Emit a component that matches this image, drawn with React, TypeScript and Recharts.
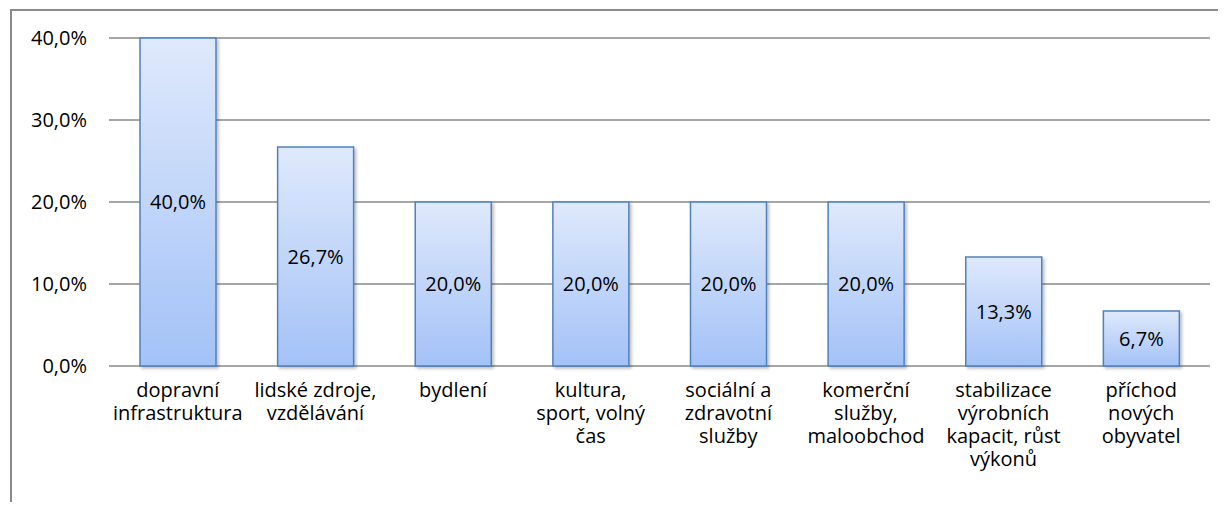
import React from "react";
import { BarChart, Bar, XAxis, YAxis, CartesianGrid, LabelList } from "recharts";

const categories = [
  "dopravní\ninfrastruktura",
  "lidské zdroje,\nvzdělávání",
  "bydlení",
  "kultura,\nsport, volný\nčas",
  "sociální a\nzdravotní\nslužby",
  "komerční\nslužby,\nmaloobchod",
  "stabilizace\nvýrobních\nkapacit, růst\nvýkonů",
  "příchod\nnových\nobyvatel",
];
const values = [0.4, 0.267, 0.2, 0.2, 0.2, 0.2, 0.133, 0.067];
const yTicks = [0, 0.1, 0.2, 0.3, 0.4];

const data = categories.map((c, i) => ({ name: c, value: values[i] }));

const FONT = "'Open Sans', sans-serif";
const FS = 20;

const fmt = (v: number) => (v * 100).toFixed(1).replace(".", ",") + "%";

const WrapTick = (props: any) => {
  const { x, y, payload } = props;
  const lines = String(payload.value).split("\n");
  return (
    <text x={x} y={y} textAnchor="middle" fill="#000" fontFamily={FONT} fontSize={FS}>
      {lines.map((l, i) => (
        <tspan key={i} x={x} dy={i === 0 ? 23 : 23}>
          {l}
        </tspan>
      ))}
    </text>
  );
};

export default function App() {
  return (
    <div
      style={{
        position: "relative",
        top: 1,
        left: 2,
        width: 1214,
        height: 494,
        borderTop: "2px solid #8a8a8a",
        borderLeft: "2px solid #8a8a8a",
        boxSizing: "border-box",
        overflow: "hidden",
      }}
    >
      <BarChart
        width={1212}
        height={492}
        data={data}
        margin={{ top: 27, right: 14, left: 0, bottom: 0 }}
        barSize={76}
      >
        <defs>
          <linearGradient id="barGrad" x1="0" y1="0" x2="0" y2="1">
            <stop offset="0%" stopColor="#dfe9fc" />
            <stop offset="100%" stopColor="#a3c2f7" />
          </linearGradient>
          <filter id="shadow" x="-10%" y="-10%" width="130%" height="130%">
            <feDropShadow dx="2" dy="2" stdDeviation="1.5" floodColor="#000" floodOpacity="0.25" />
          </filter>
        </defs>
        <CartesianGrid vertical={false} stroke="#898989" strokeWidth={1.5} />
        <XAxis
          dataKey="name"
          interval={0}
          axisLine={false}
          tickLine={false}
          height={137}
          tick={<WrapTick />}
        />
        <YAxis
          width={97}
          domain={[0, 0.4]}
          ticks={yTicks}
          tickFormatter={fmt}
          axisLine={false}
          tickLine={false}
          tickMargin={16}
          tick={{ fill: "#000", fontFamily: FONT, fontSize: FS }}
        />
        <Bar
          dataKey="value"
          fill="url(#barGrad)"
          stroke="#4f81bd"
          strokeWidth={1.5}
          filter="url(#shadow)"
          isAnimationActive={false}
        >
          <LabelList
            dataKey="value"
            position="center"
            formatter={(v: any) => fmt(Number(v))}
            fill="#000"
            fontFamily={FONT}
            fontSize={FS}
          />
        </Bar>
      </BarChart>
    </div>
  );
}
